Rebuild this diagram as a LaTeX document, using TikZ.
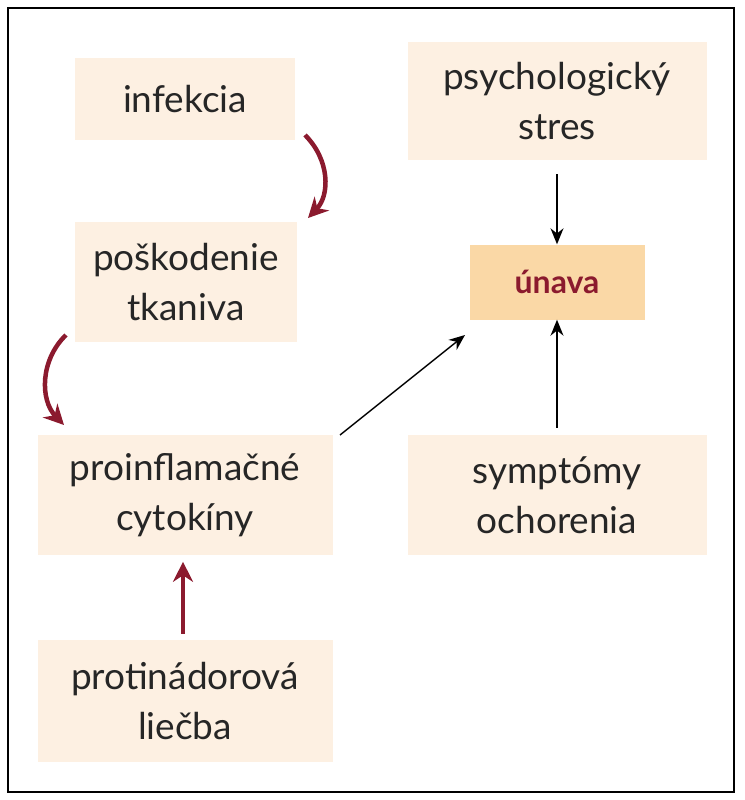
\documentclass[tikz,border=0pt]{standalone}
\usepackage{fontspec}
\setmainfont{Lato}
\usetikzlibrary{arrows.meta}
\definecolor{boxf}{HTML}{FDF0E2}
\definecolor{unf}{HTML}{FAD8A6}
\definecolor{dred}{HTML}{8B1A2E}
\begin{document}
\begin{tikzpicture}[x=1pt,y=-1pt,
 box/.style={fill=boxf,draw=none,align=center,font=\fontsize{37}{50}\selectfont,text=black!85},
 red/.style={draw=dred,line width=4.5pt,-{Stealth[length=20pt,width=20pt]}},
 blk/.style={draw=black,line width=1.4pt,-{Stealth[length=16pt,width=13pt]}}]
\useasboundingbox (0,0) rectangle (744,800);
\draw[line width=1.5pt] (8,8) rectangle (734,792);
\node[box,minimum width=220pt,minimum height=82pt] (inf) at (185,99) {infekcia};
\node[box,minimum width=299pt,minimum height=118pt] (psy) at (557,101) {psychologický\\stres};
\node[box,minimum width=222pt,minimum height=120pt] (pos) at (186,282) {poškodenie\\tkaniva};
\node[box,fill=unf,minimum width=175pt,minimum height=75pt,font=\bfseries\fontsize{32}{40}\selectfont,text=dred] (una) at (557,282) {únava};
\node[box,minimum width=295pt,minimum height=120pt] (pro) at (185,495) {proinflamačné\\cytokíny};
\node[box,minimum width=299pt,minimum height=120pt] (sym) at (557,495) {symptómy\\ochorenia};
\node[box,minimum width=295pt,minimum height=122pt] (ptn) at (185,701) {protinádorová\\liečba};
\coordinate (a1) at (305,135);
\coordinate (a2) at (308,218);
\draw[red] (a1) .. controls (330,160) and (330,195) .. (a2);
\coordinate (b1) at (66,335);
\coordinate (b2) at (64,425);
\draw[red] (b1) .. controls (40,360) and (40,400) .. (b2);
\draw[red] (ptn.north) ++(-2,-6) coordinate (c1) -- ++(0,-72);
\draw[blk] (psy.south) ++(0,14) -- (una.north) ;
\draw[blk] (340,435) -- (465,335);
\draw[blk] (sym.north) ++(0,-7) -- (una.south);
\end{tikzpicture}
\end{document}
